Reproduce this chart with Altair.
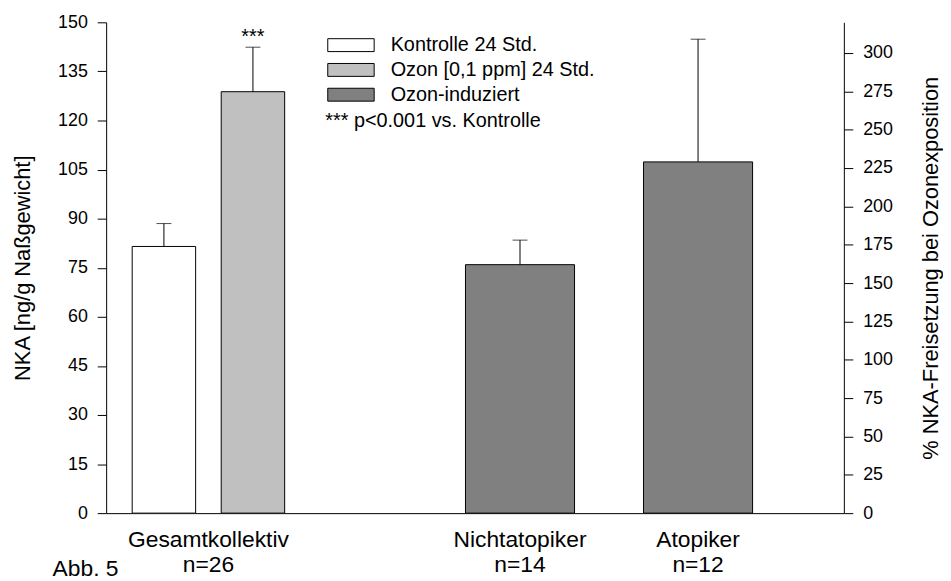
import altair as alt
import pandas as pd

# ---- data ----
series_names = ["Kontrolle 24 Std.", "Ozon [0,1 ppm] 24 Std.", "Ozon-induziert"]
series_colors = ["#ffffff", "#c0c0c0", "#808080"]

left_series = ["Kontrolle 24 Std.", "Ozon [0,1 ppm] 24 Std."]
left_slot = [0, 1]
left_value = [81.5, 128.8]
left_upper = [88.5, 142.4]
left_marker = ["", "***"]

right_series = ["Ozon-induziert", "Ozon-induziert"]
right_slot = [4, 6]
right_value = [162, 229]
right_upper = [178, 309]

group_text = ["Gesamtkollektiv\nn=26", "Nichtatopiker\nn=14", "Atopiker\nn=12"]
group_slot = [0.5, 4, 6]

left_ticks = list(range(0, 151, 15))
right_ticks = list(range(0, 301, 25))

note_text = ["*** p<0.001 vs. Kontrolle"]
fig_text = ["Abb. 5"]

FONT = "Liberation Sans"

ldf = pd.DataFrame({"slot": left_slot, "value": left_value, "upper": left_upper,
                    "series": left_series, "marker": left_marker})
rdf = pd.DataFrame({"slot": right_slot, "value": right_value, "upper": right_upper,
                    "series": right_series})
gdf = pd.DataFrame({"slot": group_slot, "label": group_text})

xs = alt.Scale(domain=[-0.593, 7.582], nice=False, zero=False)
X = alt.X("slot:Q", scale=xs,
          axis=alt.Axis(labels=False, ticks=False, grid=False, title="",
                        domainColor="black", domainWidth=1))

legend = alt.Legend(title="", orient="none", legendX=236.9, legendY=13,
                    symbolType="M-3.6,-1H3.6V1H-3.6Z", symbolSize=169,
                    symbolStrokeColor="black", symbolStrokeWidth=1, symbolOpacity=1,
                    labelFontSize=20, labelFont=FONT, labelColor="black",
                    labelLimit=0, labelOffset=30, rowPadding=5, padding=0)
C = alt.Color("series:N", scale=alt.Scale(domain=series_names, range=series_colors),
              legend=legend)

laxis = alt.Axis(values=left_ticks, orient="left", title="NKA [ng/g Naßgewicht]",
                 titleX=-84, titleY=247.5, titleAngle=270, titleBaseline="middle",
                 titleAlign="center", grid=False)
raxis = alt.Axis(values=right_ticks, orient="right",
                 title="% NKA-Freisetzung bei Ozonexposition",
                 titleX=87, titleY=247.5, titleAngle=270, titleBaseline="middle",
                 titleAlign="center", grid=False)
lscale = alt.Scale(domain=[0, 150], nice=False)
rscale = alt.Scale(domain=[0, 320], nice=False)

lb = alt.Chart(ldf).encode(x=X)
left = alt.layer(
    lb.mark_bar(size=64, stroke="black", strokeWidth=1).encode(
        y=alt.Y("value:Q", scale=lscale, axis=laxis), color=C),
    lb.mark_rule(color="black", strokeWidth=1).encode(
        y=alt.Y("value:Q", scale=lscale, axis=laxis), y2="upper:Q"),
    lb.mark_tick(orient="horizontal", size=15, thickness=1, color="black").encode(
        y=alt.Y("upper:Q", scale=lscale, axis=laxis)),
    lb.mark_text(fontSize=20, font=FONT, color="black", baseline="alphabetic", dy=-4).encode(
        y=alt.Y("upper:Q", scale=lscale, axis=laxis), text="marker:N"),
)

rb = alt.Chart(rdf).encode(x=X)
right = alt.layer(
    rb.mark_bar(size=110, stroke="black", strokeWidth=1).encode(
        y=alt.Y("value:Q", scale=rscale, axis=raxis), color=C),
    rb.mark_rule(color="black", strokeWidth=1).encode(
        y=alt.Y("value:Q", scale=rscale, axis=raxis), y2="upper:Q"),
    rb.mark_tick(orient="horizontal", size=15, thickness=1, color="black").encode(
        y=alt.Y("upper:Q", scale=rscale, axis=raxis)),
)

groups = alt.Chart(gdf).mark_text(fontSize=23, font=FONT, color="black",
                                  baseline="alphabetic", lineBreak="\n",
                                  lineHeight=25).encode(
    x=X, y=alt.value(529), text="label:N")

note = alt.Chart(pd.DataFrame({"t": note_text})).mark_text(
    fontSize=20, font=FONT, color="black", align="left", baseline="alphabetic").encode(
    x=alt.value(221), y=alt.value(106), text="t:N")

fig = alt.Chart(pd.DataFrame({"t": fig_text})).mark_text(
    fontSize=23, font=FONT, color="black", align="left", baseline="alphabetic").encode(
    x=alt.value(-54), y=alt.value(558), text="t:N")

chart = alt.layer(left, right, groups, note, fig).resolve_scale(y="independent").properties(
    width=744, height=495,
    autosize=alt.AutoSizeParams(type="none"),
    padding={"left": 99, "top": 12, "right": 100, "bottom": 66},
    background="white",
).configure_view(stroke=None).configure_axis(
    domainColor="black", tickColor="black", labelColor="black", titleColor="black",
    labelFont=FONT, titleFont=FONT, labelFontSize=18, titleFontSize=22,
    titleFontWeight="normal", tickSize=9, labelPadding=10, domainWidth=1, tickWidth=1,
)

chart.save("out.html", embed_options={"renderer": "svg", "actions": False})
